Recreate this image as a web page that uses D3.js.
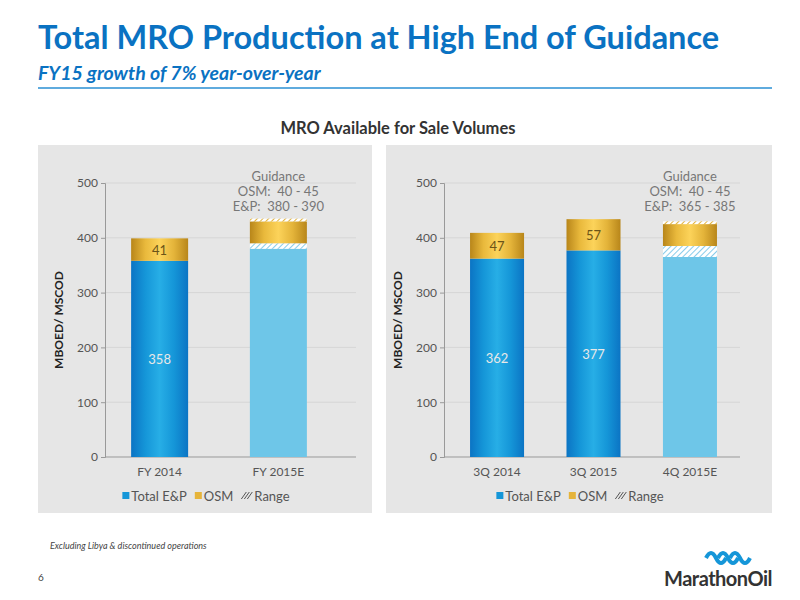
<!DOCTYPE html><html><head><meta charset="utf-8"><script src="https://cdn.jsdelivr.net/npm/d3@7"></script>
<style>body{margin:0;background:#fff}svg{font-family:Lato,"Open Sans",sans-serif}text{white-space:pre}</style></head><body><svg id="s" width="800" height="600"></svg>
<script>
const leftCats=["FY 2014","FY 2015E"];
const leftEP=[358,380];
const leftOSM=[41,40];
const leftRangeEP=[0,10];
const leftRangeOSM=[0,5];
const leftLabels=[[358,41],[null,null]];
const rightCats=["3Q 2014","3Q 2015","4Q 2015E"];
const rightEP=[362,377,365];
const rightOSM=[47,57,40];
const rightRangeEP=[0,0,20];
const rightRangeOSM=[0,0,5];
const rightLabels=[[362,47],[377,57],[null,null]];
const yTicks=[0,100,200,300,400,500];
const guidanceLeft=["Guidance","OSM:  40 - 45","E&P:  380 - 390"];
const guidanceRight=["Guidance","OSM:  40 - 45","E&P:  365 - 385"];

const svg=d3.select("#s");
const defs=svg.append("defs");
function hg(id,stops){const g=defs.append("linearGradient").attr("id",id);stops.forEach((c,i)=>g.append("stop").attr("offset",i/(stops.length-1)).attr("stop-color",c));}
hg("gold",["#b8861a","#e9b93c","#fcd35a","#e4b43a","#b8861a"]);
hg("blue",["#0b74c4","#1596d8","#27aee6","#1596d8","#0b74c4"]);
const p=defs.append("pattern").attr("id","hatch").attr("width",4).attr("height",4).attr("patternUnits","userSpaceOnUse").attr("patternTransform","rotate(45)");
p.append("rect").attr("width",4).attr("height",4).attr("fill","#fff");
p.append("line").attr("x1",0).attr("y1",0).attr("x2",0).attr("y2",4).attr("stroke","#7cc7e8").attr("stroke-width",1.8);
const pg=defs.append("pattern").attr("id","hatchg").attr("width",4).attr("height",4).attr("patternUnits","userSpaceOnUse").attr("patternTransform","rotate(45)");
pg.append("rect").attr("width",4).attr("height",4).attr("fill","#fff");
pg.append("line").attr("x1",0).attr("y1",0).attr("x2",0).attr("y2",4).attr("stroke","#e2b23a").attr("stroke-width",2);

svg.append("text").attr("x",38).attr("y",49).attr("fill","#0a72c2").attr("font-size",32.5).attr("font-weight",700).text("Total MRO Production at High End of Guidance");
svg.append("text").attr("x",38).attr("y",80).attr("fill","#0a72c2").attr("font-size",19.5).attr("font-weight",700).attr("font-style","italic").text("FY15 growth of 7% year-over-year");
svg.append("line").attr("x1",38).attr("x2",772).attr("y1",88).attr("y2",88).attr("stroke","#2a8fd3").attr("stroke-width",1.5);
svg.append("text").attr("x",398).attr("y",134).attr("text-anchor","middle").attr("font-size",16.5).attr("font-weight",700).attr("fill","#333").text("MRO Available for Sale Volumes");
svg.append("text").attr("x",50).attr("y",549).attr("font-size",9).attr("font-style","italic").attr("fill","#444").text("Excluding Libya & discontinued operations");
svg.append("text").attr("x",38).attr("y",581).attr("font-size",10).attr("fill","#444").text("6");
const lg=svg.append("g");
lg.append("text").attr("x",772).attr("y",586).attr("text-anchor","end").attr("font-size",20).attr("font-weight",700).attr("fill","#333").attr("letter-spacing",-0.5).text("MarathonOil");
[0,1,2].forEach(i=>lg.append("path").attr("d",`M${706+i*12},558 q5,-10 10,0 q5,10 10,0`).attr("fill","none").attr("stroke","#1596d8").attr("stroke-width",4));

function panel(x0,x1,axisX,plotR,bandR,pin,pout,cats,ep,osm,rep,rosm,labels,guid){
  svg.append("rect").attr("x",x0).attr("y",145).attr("width",x1-x0).attr("height",368).attr("fill","#e6e6e6");
  const y=d3.scaleLinear().domain([0,500]).range([457,183]);
  const x=d3.scaleBand().domain(cats).range([axisX,bandR]).paddingInner(pin).paddingOuter(pout);
  const g=svg.append("g");
  yTicks.forEach(t=>g.append("line").attr("x1",axisX).attr("x2",plotR).attr("y1",y(t)).attr("y2",y(t)).attr("stroke",t?"#d6d6d6":"#999"));
  g.append("g").attr("transform",`translate(${axisX},0)`).call(d3.axisLeft(y).tickValues(yTicks).tickSize(4)).call(a=>{a.select(".domain").attr("stroke","#999");a.selectAll("line").attr("stroke","#999");a.selectAll("text").attr("fill","#555").attr("font-size",12).attr("font-family","Lato");});
  g.append("g").attr("transform","translate(0,457)").call(d3.axisBottom(x).tickSize(0).tickPadding(10)).call(a=>{a.select(".domain").remove();a.selectAll("text").attr("fill","#555").attr("font-size",12).attr("font-family","Lato");});
  svg.append("text").attr("transform",`translate(${axisX-42},320) rotate(-90)`).attr("text-anchor","middle").attr("font-size",12).attr("font-weight",700).attr("fill","#222").text("MBOED/ MSCOD");
  cats.forEach((c,i)=>{
    const bx=x(c),w=x.bandwidth();
    const guidance=rep[i]>0;
    let base=0;
    const seg=(v,fill)=>{g.append("rect").attr("x",bx).attr("width",w).attr("y",y(base+v)).attr("height",y(base)-y(base+v)).attr("fill",fill);base+=v;};
    seg(ep[i],guidance?"#6ec6e8":"url(#blue)");
    if(rep[i])seg(rep[i],"url(#hatch)");
    seg(osm[i],"url(#gold)");
    if(rosm[i])seg(rosm[i],"url(#hatchg)");
    if(labels[i][0]!=null){
      g.append("text").attr("x",bx+w/2).attr("y",y(ep[i]/2)+5).attr("text-anchor","middle").attr("fill","#e8e8e8").attr("font-size",13).text(labels[i][0]);
      g.append("text").attr("x",bx+w/2).attr("y",y(ep[i]+osm[i]/2)+5).attr("text-anchor","middle").attr("fill","#6b5418").attr("font-size",13).text(labels[i][1]);
    }
    if(guidance){guid.forEach((t,k)=>g.append("text").attr("x",bx+w/2).attr("y",181+k*15).attr("text-anchor","middle").attr("fill","#777").attr("font-size",13).text(t));}
  });
  const ly=496;
  const items=[["Total E&P","#1596d8"],["OSM","#e6b43a"],["Range","hatch"]];
  const lgG=g.append("g");
  let cx=0;
  items.forEach(([t,c])=>{
    if(c==="hatch"){[0,3,6].forEach(d=>lgG.append("line").attr("x1",cx+d).attr("y1",ly+3).attr("x2",cx+d+5).attr("y2",ly-4).attr("stroke","#555"));}
    else lgG.append("rect").attr("x",cx).attr("y",ly-4).attr("width",7).attr("height",7).attr("fill",c);
    const tx=lgG.append("text").attr("x",cx+(c==="hatch"?13:9)).attr("y",ly+5).attr("font-size",13).attr("fill","#555").text(t);
    cx+=(c==="hatch"?13:9)+tx.node().getComputedTextLength()+8;
  });
  lgG.attr("transform",`translate(${(x0+x1)/2-cx/2+5},0)`);
}
panel(38,372,105,356,333,0.52,0.22,leftCats,leftEP,leftOSM,leftRangeEP,leftRangeOSM,leftLabels,guidanceLeft);
panel(386,772,444,740,743,0.44,0.27,rightCats,rightEP,rightOSM,rightRangeEP,rightRangeOSM,rightLabels,guidanceRight);
</script></body></html>
